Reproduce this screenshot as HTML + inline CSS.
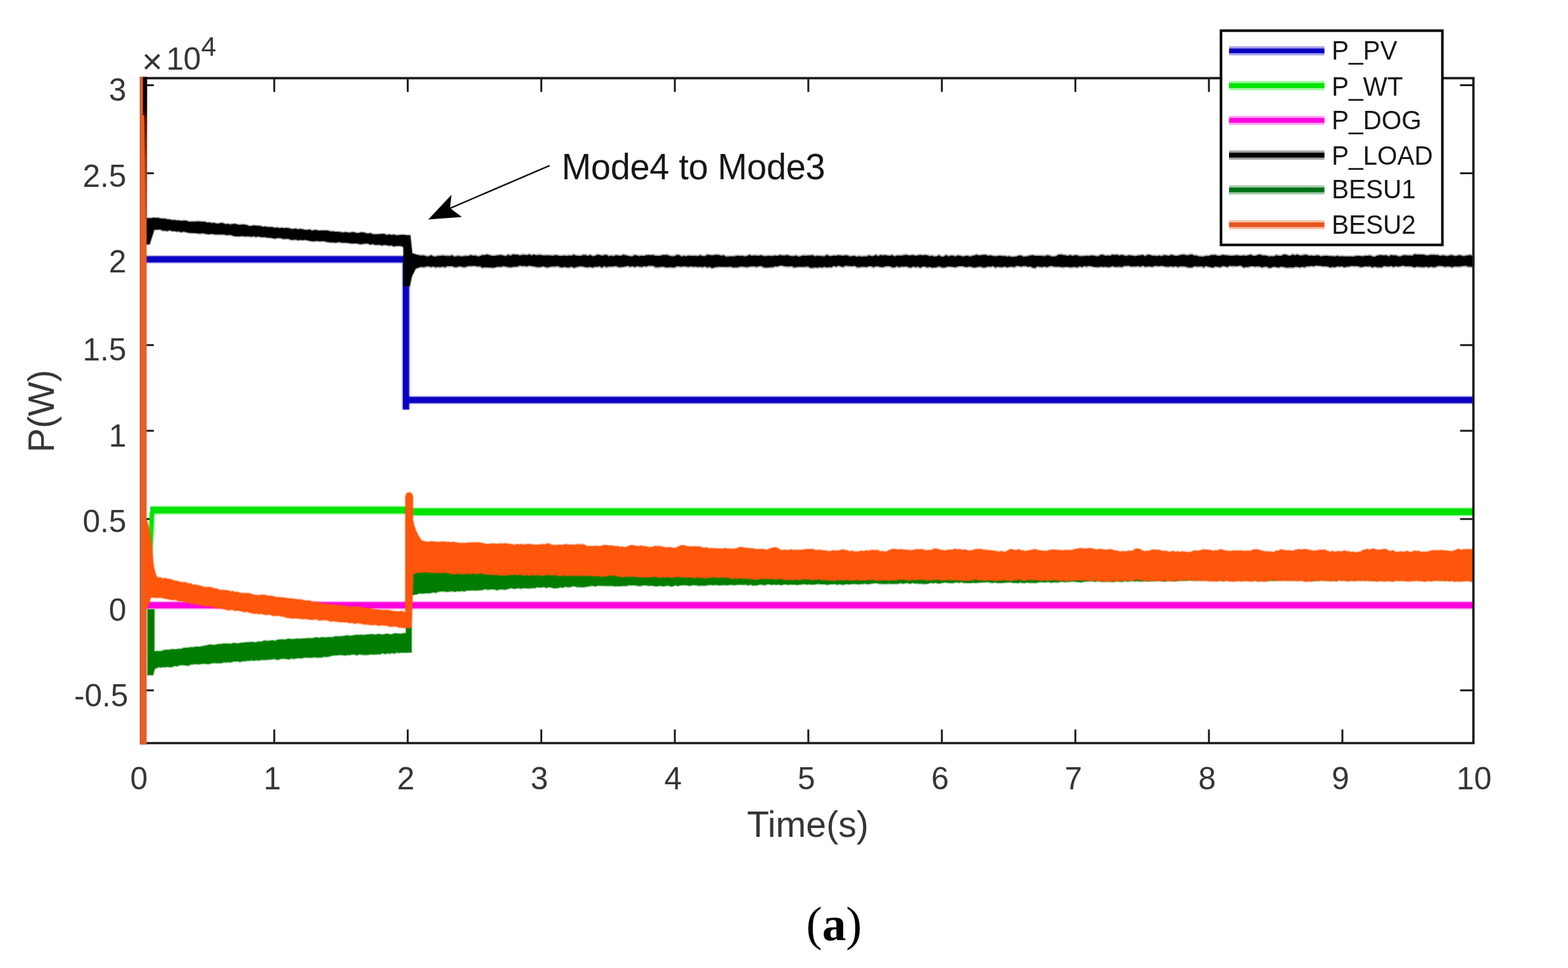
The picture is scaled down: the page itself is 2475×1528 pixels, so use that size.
<!DOCTYPE html>
<html lang="en">
<head>
<meta charset="utf-8">
<title>Figure (a): P(W) vs Time(s)</title>
<style>
html,body{margin:0;padding:0;background:#fff}
body{width:2475px;height:1528px;overflow:hidden}
svg{display:block}
text{font-family:"Liberation Sans",sans-serif;fill:#363636}
.tk{font-size:49.7px}
.mul{font-size:56px}
.sup{font-size:43px}
.lb{font-size:57.3px}
.lg{font-size:40.5px;fill:#161616}
.an{font-size:56px;fill:#161616}
.cap{font-family:"Liberation Serif",serif;font-weight:bold;font-size:75.5px;fill:#000}
.par{font-weight:normal}
</style>
</head>
<body>
<svg width="2475" height="1528" viewBox="0 0 2475 1528">
<defs><linearGradient id="spk" gradientUnits="userSpaceOnUse" x1="0" y1="122" x2="0" y2="345"><stop offset="0" stop-color="#000"/><stop offset=".22" stop-color="#120300"/><stop offset=".3" stop-color="#5a1400"/><stop offset=".6" stop-color="#96300a" stop-opacity=".9"/><stop offset="1" stop-color="#a43a10" stop-opacity=".55"/></linearGradient></defs>
<rect width="2475" height="1528" fill="#fff"/>
<g fill="none" stroke="#1a1a1a" stroke-width="3.7" stroke-linecap="butt">
<path d="M2325.7 123.4H222.8V1173H2325.7" stroke-linecap="square"/>
<path d="M432.9 1173v-21.5M432.9 123.4v21.5M643.6 1173v-21.5M643.6 123.4v21.5M854.4 1173v-21.5M854.4 123.4v21.5M1065.2 1173v-21.5M1065.2 123.4v21.5M1275.9 1173v-21.5M1275.9 123.4v21.5M1486.7 1173v-21.5M1486.7 123.4v21.5M1697.4 1173v-21.5M1697.4 123.4v21.5M1908.2 1173v-21.5M1908.2 123.4v21.5M2118.9 1173v-21.5M2118.9 123.4v21.5M222.8 134.4h20M2325.7 134.4h-21M222.8 273.6h20M2325.7 273.6h-21M222.8 409.1h20M2325.7 409.1h-21M222.8 544.7h20M2325.7 544.7h-21M222.8 680h20M2325.7 680h-21M222.8 819.3h20M2325.7 819.3h-21M222.8 954.6h20M2325.7 954.6h-21M222.8 1089.8h20M2325.7 1089.8h-21" stroke-width="3"/>
</g>
<g id="curves">
<path d="M227 409.4H640.8V646.5" stroke="#0c00c2" stroke-width="13.4" stroke-opacity="0.3" fill="none"/><path d="M227 409.4H640.8V646.5" stroke="#0c00c2" stroke-width="9.6" fill="none"/>
<path d="M640.8 631.4H2325.1" stroke="#0c00c2" stroke-width="13.4" stroke-opacity="0.3" fill="none"/><path d="M640.8 631.4H2325.1" stroke="#0c00c2" stroke-width="9.6" fill="none"/>
<path d="M231 954L236.6 880L240.2 808" stroke="#00e400" stroke-width="10.4" stroke-opacity="0.35" fill="none"/><path d="M231 954L236.6 880L240.2 808" stroke="#00e400" stroke-width="6.4" fill="none"/>
<path d="M237.2 805.2H645L651 807.9H2325.1" stroke="#00e400" stroke-width="14.4" stroke-opacity="0.3" fill="none"/><path d="M237.2 805.2H645L651 807.9H2325.1" stroke="#00e400" stroke-width="10.6" fill="none"/>
<path d="M230 955.4H2325.1" stroke="#ff00e0" stroke-width="13.4" stroke-opacity="0.3" fill="none"/><path d="M230 955.4H2325.1" stroke="#ff00e0" stroke-width="9.6" fill="none"/>
<path d="M231 344.5H250V362H243.5L236 385.5H231Z" fill="#000000" stroke="#000000" stroke-width="2.5" stroke-opacity="0.4" stroke-linejoin="round"/>
<path d="M242 343.9L245.7 345.1L249.4 344.5L253.1 345.1L256.7 345.5L260.4 345.4L264.1 346.5L267.8 346.7L271.5 347.8L275.2 347.6L278.9 348.2L282.5 348.3L286.2 348.9L289.9 348.7L293.6 348.6L297.3 350.1L301 350.2L304.6 350.1L308.3 350.2L312 349.7L315.7 349.9L319.4 350.3L323.1 350.2L326.8 351.7L330.4 351.3L334.1 352.4L337.8 351.9L341.5 353.2L345.2 353.3L348.9 352.1L352.6 352.7L356.2 354.2L359.9 353.6L363.6 354.7L367.3 353.9L371 353.5L374.7 354.7L378.4 355.3L382 354.7L385.7 354.8L389.4 355.6L393.1 357L396.8 357L400.5 356.1L404.1 356.6L407.8 356.7L411.5 356.9L415.2 358.5L418.9 357.7L422.6 358.7L426.3 358.8L429.9 358.7L433.6 360L437.3 359.2L441 360.4L444.7 359.7L448.4 360.4L452.1 360.1L455.7 360.3L459.4 361.7L463.1 361.7L466.8 361L470.5 362.4L474.2 361.5L477.9 362.2L481.5 363.3L485.2 363.2L488.9 362.5L492.6 364.4L496.3 363.2L500 363.5L503.6 364.6L507.3 364L511 364.2L514.7 364.1L518.4 364.5L522.1 365.7L525.8 365.4L529.4 366.3L533.1 366.1L536.8 366.4L540.5 367.5L544.2 366.8L547.9 367.1L551.6 367.8L555.2 366.8L558.9 366.8L562.6 368.2L566.3 368L570 367.1L573.7 367.1L577.4 368.4L581 369.1L584.7 368.2L588.4 370L592.1 370.2L595.8 370L599.5 369.8L603.1 369.4L606.8 369.5L610.5 371.4L614.2 370.3L617.9 371.3L621.6 370.6L625.3 371.8L628.9 371.5L632.6 371.1L636.3 371L640 372.2L640 389.2L636.3 389.3L632.6 388L628.9 387.9L625.3 387.9L621.6 388.7L617.9 387L614.2 387.6L610.5 386.7L606.8 386.1L603.1 387.2L599.5 386L595.8 386.2L592.1 386.2L588.4 384.8L584.7 386L581 384.2L577.4 384L573.7 384.5L570 385.2L566.3 384.8L562.6 383.8L558.9 384L555.2 384.1L551.6 383.5L547.9 382.9L544.2 382.8L540.5 382.9L536.8 382.1L533.1 382L529.4 383L525.8 382.3L522.1 382.3L518.4 382.1L514.7 381.2L511 380.3L507.3 380.4L503.6 380.6L500 380L496.3 380.6L492.6 380.4L488.9 379.9L485.2 379L481.5 378.3L477.9 379L474.2 378.2L470.5 379.1L466.8 378.1L463.1 378.2L459.4 378.4L455.7 376.8L452.1 376.5L448.4 377.1L444.7 376.1L441 375.3L437.3 375.5L433.6 376.4L429.9 375.5L426.3 374.9L422.6 375L418.9 373.9L415.2 374.1L411.5 374.1L407.8 372.8L404.1 373.9L400.5 372.5L396.8 373.6L393.1 372.7L389.4 372.8L385.7 373L382 372.3L378.4 372.7L374.7 372.8L371 372.7L367.3 371.7L363.6 370.3L359.9 370.8L356.2 370.4L352.6 369.7L348.9 369.9L345.2 369.6L341.5 370L337.8 369.6L334.1 368.8L330.4 369.4L326.8 369.2L323.1 368.6L319.4 367.8L315.7 368.6L312 368.1L308.3 367.7L304.6 367.5L301 367.5L297.3 366.9L293.6 366.2L289.9 365L286.2 366.4L282.5 364.9L278.9 365.3L275.2 364.5L271.5 364.5L267.8 363L264.1 364.4L260.4 363.7L256.7 363.8L253.1 361.9L249.4 361.6L245.7 361.5L242 362Z" fill="#000000" stroke="#000000" stroke-width="3.2" stroke-opacity="0.4" stroke-linejoin="round"/>
<path d="M637 371.6H647.5L650.5 400L662 403.5V421.5L656 424L650 436L646.5 451.5H637Z" fill="#000000" stroke="#000000" stroke-width="2.5" stroke-opacity="0.4" stroke-linejoin="round"/>
<path d="M658 404.7L661.7 404L665.4 403.4L669.1 403.5L672.8 404.8L676.5 404.9L680.2 403.1L683.9 404.8L687.6 405.2L691.3 404.1L695 404.3L698.7 403.4L702.4 404.2L706.1 404.2L709.8 404.5L713.4 403.1L717.1 405.6L720.8 404.4L724.5 404.2L728.2 405.2L731.9 404.5L735.6 404.2L739.3 404.6L743 402.8L746.7 404L750.4 403.6L754.1 404.9L757.8 404.6L761.5 402.7L765.2 403.1L768.9 402.1L772.6 402.9L776.3 404L780 404.3L783.7 403.4L787.4 403L791.1 402.8L794.8 403.8L798.5 404.5L802.2 402.3L805.9 403.9L809.6 401.8L813.3 402.2L816.9 402.3L820.6 403.4L824.3 402.4L828 402.4L831.7 403.1L835.4 401.7L839.1 403.4L842.8 402L846.5 403.2L850.2 402.7L853.9 402.7L857.6 403.6L861.3 403.4L865 403.3L868.7 403.5L872.4 403.9L876.1 403.1L879.8 403.2L883.5 404.3L887.2 404.1L890.9 403.6L894.6 404.2L898.3 403.4L902 403.9L905.7 402.3L909.4 403.7L913.1 403.9L916.8 404.2L920.4 402.7L924.1 402.7L927.8 404.3L931.5 402.5L935.2 404.6L938.9 404.3L942.6 402.4L946.3 402.6L950 404L953.7 402.9L957.4 402.6L961.1 404.7L964.8 403.7L968.5 404.7L972.2 403L975.9 403.6L979.6 404.3L983.3 402.5L987 402.9L990.7 404.1L994.4 404.7L998.1 404.9L1001.8 402.7L1005.5 403.8L1009.2 404.5L1012.9 403.8L1016.6 404.3L1020.3 403.1L1023.9 402.8L1027.6 403L1031.3 402.8L1035 404.2L1038.7 404.1L1042.4 404.1L1046.1 402.8L1049.8 402.8L1053.5 402.7L1057.2 404.3L1060.9 404.7L1064.6 404.7L1068.3 402.7L1072 402.8L1075.7 405.2L1079.4 404L1083.1 404.8L1086.8 403.7L1090.5 404.1L1094.2 404.3L1097.9 404.1L1101.6 404.6L1105.3 403L1109 404.5L1112.7 404.5L1116.4 402.4L1120.1 402.8L1123.8 403.5L1127.4 402.7L1131.1 402.5L1134.8 402.7L1138.5 404L1142.2 403L1145.9 405.4L1149.6 405.1L1153.3 404.8L1157 405.1L1160.7 404.4L1164.4 403.8L1168.1 404.3L1171.8 403.9L1175.5 405L1179.2 404.3L1182.9 402.6L1186.6 404.1L1190.3 403.6L1194 403.7L1197.7 403.9L1201.4 403L1205.1 404.4L1208.8 404.5L1212.5 404L1216.2 404.2L1219.9 404.3L1223.6 403.4L1227.3 404.3L1231 402.7L1234.6 403.4L1238.3 403.8L1242 402.7L1245.7 403.7L1249.4 404.6L1253.1 404.6L1256.8 403.6L1260.5 405.4L1264.2 404.5L1267.9 403.4L1271.6 404L1275.3 403.6L1279 403.5L1282.7 403.1L1286.4 404.8L1290.1 403.9L1293.8 404.2L1297.5 404.4L1301.2 405L1304.9 402.5L1308.6 404.2L1312.3 404.6L1316 403.5L1319.7 404L1323.4 403.1L1327.1 403.5L1330.8 403.9L1334.5 403.2L1338.1 403.5L1341.8 405.2L1345.5 404.3L1349.2 404.2L1352.9 405.4L1356.6 404.4L1360.3 405.6L1364 404.7L1367.7 405.2L1371.4 403.2L1375.1 404.4L1378.8 404.6L1382.5 402.6L1386.2 404.7L1389.9 402.7L1393.6 403.5L1397.3 402.8L1401 403.7L1404.7 404.1L1408.4 402.7L1412.1 405L1415.8 403.6L1419.5 403.7L1423.2 403.7L1426.9 402.9L1430.6 402.6L1434.3 403.5L1438 403.3L1441.6 402.7L1445.3 404.1L1449 403.2L1452.7 402.7L1456.4 403.3L1460.1 402.8L1463.8 403.2L1467.5 404.7L1471.2 403.8L1474.9 405.2L1478.6 404.8L1482.3 403L1486 405.4L1489.7 405.2L1493.4 402.8L1497.1 404.9L1500.8 403.7L1504.5 403.8L1508.2 405.1L1511.9 403.3L1515.6 404L1519.3 405.1L1523 404.6L1526.7 403.8L1530.4 405L1534.1 404.4L1537.8 403.6L1541.5 402.2L1545.1 403.4L1548.8 403.1L1552.5 402.6L1556.2 402.5L1559.9 404.1L1563.6 403.3L1567.3 404.2L1571 404.8L1574.7 404.2L1578.4 403.8L1582.1 404.6L1585.8 404.2L1589.5 405.2L1593.2 404.5L1596.9 405.8L1600.6 405.6L1604.3 405.1L1608 403.8L1611.7 403.5L1615.4 405.4L1619.1 405L1622.8 404.4L1626.5 403.5L1630.2 403.1L1633.9 404.1L1637.6 403.9L1641.3 404L1645 404.2L1648.6 404.7L1652.3 403.3L1656 403.5L1659.7 405.3L1663.4 405L1667.1 404.7L1670.8 402.3L1674.5 402.2L1678.2 402.7L1681.9 403.2L1685.6 403.9L1689.3 402.8L1693 404.2L1696.7 403.1L1700.4 403.3L1704.1 404.8L1707.8 404.4L1711.5 404.6L1715.2 403.9L1718.9 404.2L1722.6 403.5L1726.3 403.8L1730 404.6L1733.7 404.7L1737.4 402.5L1741.1 402.4L1744.8 404.1L1748.5 403.6L1752.1 403.9L1755.8 402.3L1759.5 402.8L1763.2 402.3L1766.9 403.7L1770.6 402.6L1774.3 403.4L1778 404.4L1781.7 402.9L1785.4 403.6L1789.1 404.1L1792.8 404.6L1796.5 403.4L1800.2 403.3L1803.9 402.6L1807.6 404.7L1811.3 402.6L1815 402.6L1818.7 404L1822.4 403.8L1826.1 404.5L1829.8 403.5L1833.5 404.8L1837.2 402.9L1840.9 403.2L1844.6 404.3L1848.3 402.6L1852 403.1L1855.7 404.2L1859.3 404L1863 402.8L1866.7 402.2L1870.4 402.6L1874.1 403.4L1877.8 402.4L1881.5 401.9L1885.2 403.7L1888.9 403.6L1892.6 404.9L1896.3 405.2L1900 405.2L1903.7 403.9L1907.4 404.6L1911.1 403L1914.8 402.7L1918.5 402.7L1922.2 403.9L1925.9 403.9L1929.6 402.5L1933.3 403.1L1937 403.4L1940.7 403.7L1944.4 403.9L1948.1 403.8L1951.8 403.1L1955.5 403.7L1959.2 404.1L1962.8 403.2L1966.5 403.9L1970.2 403.2L1973.9 402.2L1977.6 403.8L1981.3 404.2L1985 402.7L1988.7 402.1L1992.4 403.4L1996.1 403.6L1999.8 403.9L2003.5 405.1L2007.2 404.5L2010.9 404.9L2014.6 402.9L2018.3 403.9L2022 404.3L2025.7 402.2L2029.4 402L2033.1 403.6L2036.8 404L2040.5 401.9L2044.2 403.3L2047.9 402L2051.6 403.6L2055.3 403.4L2059 402.4L2062.7 402.4L2066.3 404L2070 403.5L2073.7 404.3L2077.4 403.4L2081.1 403.2L2084.8 404.9L2088.5 404.3L2092.2 403.9L2095.9 404.1L2099.6 404.6L2103.3 404.6L2107 405.1L2110.7 403.9L2114.4 405L2118.1 404.6L2121.8 405.1L2125.5 405L2129.2 405L2132.9 405.1L2136.6 405.2L2140.3 404.3L2144 404L2147.7 404.5L2151.4 404.8L2155.1 404L2158.8 404.1L2162.5 403.4L2166.2 405L2169.8 405.6L2173.5 403.9L2177.2 403.1L2180.9 403L2184.6 403.5L2188.3 403L2192 404.9L2195.7 402.7L2199.4 403.5L2203.1 403.2L2206.8 404.7L2210.5 405.1L2214.2 403.5L2217.9 402.9L2221.6 403.5L2225.3 403.5L2229 404L2232.7 401.6L2236.4 401.9L2240.1 402.1L2243.8 402.2L2247.5 402.3L2251.2 403.6L2254.9 403.3L2258.6 402.4L2262.3 402.4L2266 402.8L2269.7 402.7L2273.3 404.3L2277 403.2L2280.7 403.7L2284.4 404.4L2288.1 403.4L2291.8 402.7L2295.5 404.3L2299.2 404.3L2302.9 402.9L2306.6 403.6L2310.3 404.8L2314 403.8L2317.7 403.2L2321.4 402.8L2325.1 405.2L2325.1 421.2L2321.4 420.6L2317.7 420.8L2314 419.3L2310.3 419.5L2306.6 420.1L2302.9 420.6L2299.2 420.5L2295.5 420.2L2291.8 421.8L2288.1 420.3L2284.4 420.2L2280.7 420.9L2277 419.7L2273.3 419.6L2269.7 419.6L2266 421.2L2262.3 421.6L2258.6 420.6L2254.9 421.9L2251.2 420.4L2247.5 421.5L2243.8 421.3L2240.1 421.1L2236.4 420.4L2232.7 421.9L2229 420.6L2225.3 420L2221.6 420.1L2217.9 420.1L2214.2 418.9L2210.5 420L2206.8 420.7L2203.1 419.7L2199.4 421.3L2195.7 419.4L2192 420.4L2188.3 420.3L2184.6 419.5L2180.9 421.8L2177.2 421.4L2173.5 421.6L2169.8 420.5L2166.2 422.1L2162.5 420L2158.8 420.4L2155.1 420L2151.4 421L2147.7 421.5L2144 420L2140.3 419.8L2136.6 419.7L2132.9 419.5L2129.2 420.4L2125.5 420.8L2121.8 421.7L2118.1 420L2114.4 420.7L2110.7 420.1L2107 421.7L2103.3 421.1L2099.6 421.9L2095.9 420.4L2092.2 419.9L2088.5 420.2L2084.8 419.4L2081.1 419.2L2077.4 419L2073.7 420.1L2070 419.4L2066.3 420.1L2062.7 420L2059 421.7L2055.3 420.8L2051.6 422L2047.9 420.9L2044.2 421.1L2040.5 422.3L2036.8 421.6L2033.1 422.3L2029.4 421.9L2025.7 421L2022 420.4L2018.3 422L2014.6 421.4L2010.9 420.4L2007.2 421.9L2003.5 422.7L1999.8 420.8L1996.1 420.6L1992.4 421.9L1988.7 420.6L1985 420.1L1981.3 420.8L1977.6 420L1973.9 419.9L1970.2 421.2L1966.5 421.3L1962.8 421.9L1959.2 419.3L1955.5 419.2L1951.8 420L1948.1 419.6L1944.4 419.8L1940.7 419.2L1937 421.4L1933.3 419.9L1929.6 419.7L1925.9 421.7L1922.2 421L1918.5 420.2L1914.8 422.2L1911.1 421.5L1907.4 420.7L1903.7 419.4L1900 421.8L1896.3 419.9L1892.6 420.4L1888.9 420.6L1885.2 419.9L1881.5 421.9L1877.8 422L1874.1 421.6L1870.4 420.2L1866.7 420.3L1863 420L1859.3 421.6L1855.7 419.7L1852 421L1848.3 420.1L1844.6 420.7L1840.9 420.8L1837.2 420L1833.5 419.3L1829.8 419.9L1826.1 419.4L1822.4 419.6L1818.7 420.9L1815 420.2L1811.3 420.2L1807.6 421.1L1803.9 419L1800.2 421L1796.5 419.7L1792.8 420.3L1789.1 420.3L1785.4 420.4L1781.7 419.2L1778 419.6L1774.3 419.6L1770.6 421.4L1766.9 420.6L1763.2 421.1L1759.5 421L1755.8 419.7L1752.1 421.2L1748.5 421.5L1744.8 420.7L1741.1 421.3L1737.4 420.4L1733.7 421.5L1730 421.2L1726.3 421L1722.6 420L1718.9 419.5L1715.2 420.6L1711.5 419.6L1707.8 421.4L1704.1 419.9L1700.4 422L1696.7 420.9L1693 421.3L1689.3 421.8L1685.6 420.9L1681.9 420.9L1678.2 421.6L1674.5 421.2L1670.8 420.4L1667.1 421L1663.4 420.6L1659.7 419.5L1656 420.3L1652.3 421.5L1648.6 420.3L1645 421.5L1641.3 421L1637.6 420.1L1633.9 422.7L1630.2 422.3L1626.5 420.2L1622.8 420.9L1619.1 419.8L1615.4 419.5L1611.7 420.7L1608 419.6L1604.3 419.4L1600.6 421.6L1596.9 420.5L1593.2 420.9L1589.5 421.8L1585.8 420.3L1582.1 421.4L1578.4 421.2L1574.7 420.7L1571 422L1567.3 419.6L1563.6 421.1L1559.9 420.2L1556.2 421.4L1552.5 422.3L1548.8 420.8L1545.1 420.6L1541.5 421.5L1537.8 422.1L1534.1 421.3L1530.4 420.3L1526.7 421.3L1523 420.9L1519.3 419.8L1515.6 419.9L1511.9 420.2L1508.2 421.7L1504.5 420.9L1500.8 420.7L1497.1 420.3L1493.4 421.2L1489.7 422.3L1486 421.6L1482.3 420L1478.6 421.5L1474.9 422L1471.2 422.2L1467.5 420.8L1463.8 422L1460.1 420.5L1456.4 420.4L1452.7 422.5L1449 420.6L1445.3 421.5L1441.6 420.2L1438 422.1L1434.3 421.7L1430.6 419.9L1426.9 420.7L1423.2 420.4L1419.5 421.6L1415.8 420L1412.1 421.8L1408.4 421.8L1404.7 420.1L1401 419.7L1397.3 420.2L1393.6 421.4L1389.9 421.2L1386.2 420.2L1382.5 419.9L1378.8 421.7L1375.1 419.7L1371.4 419.9L1367.7 421.4L1364 420.8L1360.3 420.7L1356.6 421.6L1352.9 421.6L1349.2 419.3L1345.5 419.9L1341.8 419.8L1338.1 419.6L1334.5 418.9L1330.8 421.3L1327.1 420.2L1323.4 419.1L1319.7 420.9L1316 419.3L1312.3 421.8L1308.6 421.2L1304.9 421.9L1301.2 420.7L1297.5 422.2L1293.8 421.2L1290.1 422.4L1286.4 421.8L1282.7 422.6L1279 422.5L1275.3 420.3L1271.6 420.7L1267.9 421.1L1264.2 420.9L1260.5 420.7L1256.8 421.4L1253.1 421.8L1249.4 419.8L1245.7 420.4L1242 420.3L1238.3 419.9L1234.6 418.9L1231 418.9L1227.3 420.5L1223.6 420.1L1219.9 421.6L1216.2 421.4L1212.5 421.9L1208.8 422.2L1205.1 421.6L1201.4 419.6L1197.7 420L1194 421.3L1190.3 420L1186.6 420.3L1182.9 420.4L1179.2 421.6L1175.5 420.9L1171.8 420.6L1168.1 420.6L1164.4 421.7L1160.7 421.6L1157 421.9L1153.3 420.5L1149.6 421.1L1145.9 421.1L1142.2 421L1138.5 421L1134.8 420.8L1131.1 421.3L1127.4 421.9L1123.8 422.9L1120.1 420.7L1116.4 422L1112.7 420.2L1109 421.6L1105.3 420.7L1101.6 421.2L1097.9 420.4L1094.2 421L1090.5 420.1L1086.8 421.1L1083.1 420.5L1079.4 419.9L1075.7 420.8L1072 420.2L1068.3 419.9L1064.6 422.1L1060.9 421.7L1057.2 421.2L1053.5 422L1049.8 421.6L1046.1 420.4L1042.4 421.1L1038.7 421.6L1035 421.6L1031.3 419.5L1027.6 419.2L1023.9 419.3L1020.3 420.6L1016.6 419.7L1012.9 421.3L1009.2 420.6L1005.5 419.7L1001.8 421.4L998.1 419.7L994.4 421L990.7 419.2L987 420.4L983.3 421L979.6 421.5L975.9 421.2L972.2 419.6L968.5 420.3L964.8 420.4L961.1 420.5L957.4 421.6L953.7 419.8L950 422.2L946.3 420L942.6 420.9L938.9 420.7L935.2 422.2L931.5 420.7L927.8 421.7L924.1 421.4L920.4 420.5L916.8 420.1L913.1 420.5L909.4 421.6L905.7 422.5L902 420.5L898.3 422.1L894.6 421.7L890.9 421L887.2 422L883.5 421.2L879.8 419.6L876.1 420.6L872.4 420.2L868.7 420.8L865 421.8L861.3 421.4L857.6 419.9L853.9 421L850.2 421.4L846.5 421.1L842.8 420.2L839.1 419.7L835.4 418.9L831.7 420.3L828 419.6L824.3 419.7L820.6 419L816.9 420.6L813.3 420.7L809.6 421.1L805.9 421.8L802.2 421.2L798.5 420.6L794.8 419.8L791.1 420.9L787.4 420.7L783.7 420.9L780 422.2L776.3 422.2L772.6 422L768.9 421.7L765.2 421.4L761.5 422.4L757.8 419.9L754.1 420.5L750.4 419.5L746.7 419.5L743 419.7L739.3 419.4L735.6 420.9L731.9 421.6L728.2 420.5L724.5 420L720.8 421.4L717.1 421.3L713.4 419.8L709.8 419.9L706.1 419.8L702.4 421.7L698.7 420.4L695 421.4L691.3 420.9L687.6 421.8L683.9 420.2L680.2 421.2L676.5 419.9L672.8 420.2L669.1 421.4L665.4 420.9L661.7 420.9L658 420.8Z" fill="#000000" stroke="#000000" stroke-width="4.2" stroke-opacity="0.33" stroke-linejoin="round"/>
<path d="M233 962H243.5V1028.5L248 1028.4V1053.6L244 1056L241.5 1065.5H233Z" fill="#007d00" stroke="#007d00" stroke-width="2.5" stroke-opacity="0.4" stroke-linejoin="round"/>
<path d="M246 1028.7L249.7 1027.9L253.4 1028.3L257.1 1027L260.8 1026.1L264.5 1026.1L268.1 1025.8L271.8 1024.9L275.5 1025.3L279.2 1025.1L282.9 1024.5L286.6 1024.4L290.3 1022.8L294 1023.1L297.7 1022.6L301.4 1021.7L305.1 1021.9L308.8 1020.9L312.4 1021.3L316.1 1021L319.8 1020.3L323.5 1019.5L327.2 1018.8L330.9 1017.8L334.6 1018L338.3 1018.5L342 1017.6L345.7 1016.7L349.4 1017.1L353.1 1016L356.7 1016.3L360.4 1016.3L364.1 1016.7L367.8 1015.3L371.5 1015.5L375.2 1015.9L378.9 1015.3L382.6 1014.8L386.3 1014.6L390 1014L393.7 1013.9L397.4 1013.4L401 1014.2L404.7 1014L408.4 1012.8L412.1 1013.5L415.8 1011.7L419.5 1011.6L423.2 1012L426.9 1011.4L430.6 1011.1L434.3 1011.9L438 1010L441.7 1009.7L445.3 1009.5L449 1010.1L452.7 1009.1L456.4 1008.5L460.1 1009.3L463.8 1008.9L467.5 1008.4L471.2 1008.6L474.9 1008.6L478.6 1008.1L482.3 1007.9L486 1007.5L489.6 1007.8L493.3 1007.8L497 1006.5L500.7 1006.4L504.4 1007.2L508.1 1006L511.8 1006.5L515.5 1006.2L519.2 1006L522.9 1006.3L526.6 1005.8L530.3 1004.4L533.9 1005L537.6 1004.5L541.3 1004.4L545 1003.7L548.7 1003.3L552.4 1003.9L556.1 1003.4L559.8 1002.7L563.5 1002.6L567.2 1002.6L570.9 1002.3L574.6 1002.8L578.2 1001.9L581.9 1001.7L585.6 1001.5L589.3 1001.4L593 1002.3L596.7 1001.1L600.4 1001.5L604.1 1002L607.8 1001.3L611.5 1000.6L615.2 1001.7L618.9 1001.6L622.5 1000L626.2 1000.2L629.9 1000.4L633.6 1000.8L637.3 999.8L641 1000.2L641 1029.7L637.3 1029.9L633.6 1029.8L629.9 1030.6L626.2 1029.8L622.5 1031.5L618.9 1030.5L615.2 1031.5L611.5 1031.1L607.8 1032.2L604.1 1030.8L600.4 1032.6L596.7 1032.4L593 1032.7L589.3 1032.9L585.6 1032.4L581.9 1033.2L578.2 1033.5L574.6 1033.6L570.9 1033.2L567.2 1032.4L563.5 1034.2L559.8 1032.9L556.1 1032.7L552.4 1033.7L548.7 1033.5L545 1034.4L541.3 1033.9L537.6 1033.6L533.9 1033.9L530.3 1034.2L526.6 1034.3L522.9 1034.9L519.2 1036.3L515.5 1036.8L511.8 1036.3L508.1 1037.6L504.4 1037.6L500.7 1037.9L497 1037L493.3 1037.8L489.6 1038.1L486 1038.1L482.3 1037.4L478.6 1038.2L474.9 1039.1L471.2 1038.6L467.5 1039L463.8 1039.9L460.1 1038.9L456.4 1040.6L452.7 1039.9L449 1039.6L445.3 1039.6L441.7 1040.2L438 1041.4L434.3 1040L430.6 1040.2L426.9 1040.7L423.2 1041.1L419.5 1041.5L415.8 1041.3L412.1 1041.6L408.4 1042.4L404.7 1041.8L401 1042.8L397.4 1042L393.7 1042.8L390 1042.7L386.3 1043.6L382.6 1043.4L378.9 1044.8L375.2 1043.5L371.5 1043.9L367.8 1044L364.1 1045.4L360.4 1045.1L356.7 1045.6L353.1 1045.3L349.4 1046.5L345.7 1046.4L342 1046.5L338.3 1046.3L334.6 1046.4L330.9 1047.7L327.2 1047.9L323.5 1047.2L319.8 1047.6L316.1 1048L312.4 1048.4L308.8 1047.7L305.1 1048.6L301.4 1048.5L297.7 1050.4L294 1050.2L290.3 1049.7L286.6 1049.6L282.9 1050.1L279.2 1051.5L275.5 1050.7L271.8 1052.8L268.1 1053L264.5 1052.3L260.8 1052.9L257.1 1052.8L253.4 1053.5L249.7 1052.7L246 1054.3Z" fill="#007d00" stroke="#007d00" stroke-width="3" stroke-opacity="0.38" stroke-linejoin="round"/>
<path d="M641 1029.8V990H649.5V1029.8Z" fill="#007d00" stroke="#007d00" stroke-width="2.5" stroke-opacity="0.4" stroke-linejoin="round"/>
<path d="M646 940V904H658V938Z" fill="#007d00" stroke="#007d00" stroke-width="2" stroke-opacity="0.4" stroke-linejoin="round"/>
<path d="M655 898L658.7 898L662.4 898L666.1 897.9L669.8 897.9L673.5 897.9L677.2 897.9L680.9 897.9L684.6 897.9L688.3 897.8L692 897.8L695.7 897.8L699.4 897.8L703.1 897.8L706.8 897.8L710.5 897.7L714.2 897.7L718 897.7L721.7 897.7L725.4 897.7L729.1 897.6L732.8 897.6L736.5 897.6L740.2 897.6L743.9 897.6L747.6 897.6L751.3 897.5L755 897.5L758.7 897.5L762.4 897.5L766.1 897.5L769.8 897.5L773.5 897.4L777.2 897.4L780.9 897.4L784.6 897.4L788.3 897.4L792 897.3L795.7 897.3L799.4 897.3L803.1 897.3L806.8 897.3L810.5 897.3L814.2 897.2L817.9 897.2L821.6 897.2L825.3 897.2L829 897.2L832.7 897.1L836.5 897.1L840.2 897.1L843.9 897.1L847.6 897.1L851.3 897.1L855 897L858.7 897L862.4 897L866.1 897L869.8 897L873.5 897L877.2 896.9L880.9 896.9L884.6 896.9L888.3 896.9L892 896.9L895.7 896.8L899.4 896.8L903.1 896.8L906.8 896.8L910.5 896.8L914.2 896.8L917.9 896.7L921.6 896.7L925.3 896.7L929 896.7L932.7 896.7L936.4 896.7L940.1 896.6L943.8 896.6L947.5 896.6L951.2 896.6L955 896.6L958.7 896.5L962.4 896.5L966.1 896.5L969.8 896.5L973.5 896.5L977.2 896.5L980.9 896.4L984.6 896.4L988.3 896.4L992 896.4L995.7 896.4L999.4 896.4L1003.1 896.3L1006.8 896.3L1010.5 896.3L1014.2 896.3L1017.9 896.3L1021.6 896.2L1025.3 896.2L1029 896.2L1032.7 896.2L1036.4 896.2L1040.1 896.2L1043.8 896.1L1047.5 896.1L1051.2 896.1L1054.9 896.1L1058.6 896.1L1062.3 896L1066 896L1069.7 896L1073.5 896L1077.2 896L1080.9 896L1084.6 895.9L1088.3 895.9L1092 895.9L1095.7 895.9L1099.4 895.9L1103.1 895.9L1106.8 895.8L1110.5 895.8L1114.2 895.8L1117.9 895.8L1121.6 895.8L1125.3 895.7L1129 895.7L1132.7 895.7L1136.4 895.7L1140.1 895.7L1143.8 895.7L1147.5 895.6L1151.2 895.6L1154.9 895.6L1158.6 895.6L1162.3 895.6L1166 895.6L1169.7 895.5L1173.4 895.5L1177.1 895.5L1180.8 895.5L1184.5 895.5L1188.2 895.4L1192 895.4L1195.7 895.4L1199.4 895.4L1203.1 895.4L1206.8 895.4L1210.5 895.3L1214.2 895.3L1217.9 895.3L1221.6 895.3L1225.3 895.3L1229 895.3L1232.7 895.2L1236.4 895.2L1240.1 895.2L1243.8 895.2L1247.5 895.2L1251.2 895.1L1254.9 895.1L1258.6 895.1L1262.3 895.1L1266 895.1L1269.7 895.1L1273.4 895L1277.1 895L1280.8 895L1284.5 895L1288.2 895L1291.9 895L1295.6 894.9L1299.3 894.9L1303 894.9L1306.7 894.9L1310.4 894.9L1314.2 894.8L1317.9 894.8L1321.6 894.8L1325.3 894.8L1329 894.8L1332.7 894.8L1336.4 894.7L1340.1 894.7L1343.8 894.7L1347.5 894.7L1351.2 894.7L1354.9 894.6L1358.6 894.6L1362.3 894.6L1366 894.6L1369.7 894.6L1373.4 894.6L1377.1 894.5L1380.8 894.5L1384.5 894.5L1388.2 894.5L1391.9 894.5L1395.6 894.5L1399.3 894.4L1403 894.4L1406.7 894.4L1410.4 894.4L1414.1 894.4L1417.8 894.3L1421.5 894.3L1425.2 894.3L1428.9 894.3L1432.7 894.3L1436.4 894.3L1440.1 894.2L1443.8 894.2L1447.5 894.2L1451.2 894.2L1454.9 894.2L1458.6 894.2L1462.3 894.1L1466 894.1L1469.7 894.1L1473.4 894.1L1477.1 894.1L1480.8 894L1484.5 894L1488.2 894L1491.9 894L1495.6 894L1499.3 894L1503 893.9L1506.7 893.9L1510.4 893.9L1514.1 893.9L1517.8 893.9L1521.5 893.9L1525.2 893.8L1528.9 893.8L1532.6 893.8L1536.3 893.8L1540 893.8L1543.7 893.7L1547.4 893.7L1551.2 893.7L1554.9 893.7L1558.6 893.7L1562.3 893.7L1566 893.6L1569.7 893.6L1573.4 893.6L1577.1 893.6L1580.8 893.6L1584.5 893.6L1588.2 893.5L1591.9 893.5L1595.6 893.5L1599.3 893.5L1603 893.5L1606.7 893.4L1610.4 893.4L1614.1 893.4L1617.8 893.4L1621.5 893.4L1625.2 893.4L1628.9 893.3L1632.6 893.3L1636.3 893.3L1640 893.3L1643.7 893.3L1647.4 893.2L1651.1 893.2L1654.8 893.2L1658.5 893.2L1662.2 893.2L1665.9 893.2L1669.7 893.1L1673.4 893.1L1677.1 893.1L1680.8 893.1L1684.5 893.1L1688.2 893.1L1691.9 893L1695.6 893L1699.3 893L1703 893L1706.7 893L1710.4 892.9L1714.1 892.9L1717.8 892.9L1721.5 892.9L1725.2 892.9L1728.9 892.9L1732.6 892.8L1736.3 892.8L1740 892.8L1743.7 892.8L1747.4 892.8L1751.1 892.8L1754.8 892.7L1758.5 892.7L1762.2 892.7L1765.9 892.7L1769.6 892.7L1773.3 892.6L1777 892.6L1780.7 892.6L1784.4 892.6L1788.1 892.6L1791.9 892.6L1795.6 892.5L1799.3 892.5L1803 892.5L1806.7 892.5L1810.4 892.5L1814.1 892.5L1817.8 892.4L1821.5 892.4L1825.2 892.4L1828.9 892.4L1832.6 892.4L1836.3 892.3L1840 892.3L1843.7 892.3L1847.4 892.3L1851.1 892.3L1854.8 892.3L1858.5 892.2L1862.2 892.2L1865.9 892.2L1869.6 892.2L1873.3 892.2L1877 892.1L1880.7 892.1L1884.4 892.1L1888.1 892.1L1891.8 892.1L1895.5 892.1L1899.2 892L1902.9 892L1906.6 892L1910.4 892L1914.1 892L1917.8 892L1921.5 891.9L1925.2 891.9L1928.9 891.9L1932.6 891.9L1936.3 891.9L1940 891.8L1943.7 891.8L1947.4 891.8L1951.1 891.8L1954.8 891.8L1958.5 891.8L1962.2 891.7L1965.9 891.7L1969.6 891.7L1973.3 891.7L1977 891.7L1980.7 891.7L1984.4 891.6L1988.1 891.6L1991.8 891.6L1995.5 891.6L1999.2 891.6L2002.9 891.5L2006.6 891.5L2010.3 891.5L2014 891.5L2017.7 891.5L2021.4 891.5L2025.1 891.4L2028.9 891.4L2032.6 891.4L2036.3 891.4L2040 891.4L2043.7 891.4L2047.4 891.3L2051.1 891.3L2054.8 891.3L2058.5 891.3L2062.2 891.3L2065.9 891.2L2069.6 891.2L2073.3 891.2L2077 891.2L2080.7 891.2L2084.4 891.2L2088.1 891.1L2091.8 891.1L2095.5 891.1L2099.2 891.1L2102.9 891.1L2106.6 891.1L2110.3 891L2114 891L2117.7 891L2121.4 891L2125.1 891L2128.8 890.9L2132.5 890.9L2136.2 890.9L2139.9 890.9L2143.6 890.9L2147.4 890.9L2151.1 890.8L2154.8 890.8L2158.5 890.8L2162.2 890.8L2165.9 890.8L2169.6 890.7L2173.3 890.7L2177 890.7L2180.7 890.7L2184.4 890.7L2188.1 890.7L2191.8 890.6L2195.5 890.6L2199.2 890.6L2202.9 890.6L2206.6 890.6L2210.3 890.6L2214 890.5L2217.7 890.5L2221.4 890.5L2225.1 890.5L2228.8 890.5L2232.5 890.4L2236.2 890.4L2239.9 890.4L2243.6 890.4L2247.3 890.4L2251 890.4L2254.7 890.3L2258.4 890.3L2262.1 890.3L2265.9 890.3L2269.6 890.3L2273.3 890.3L2277 890.2L2280.7 890.2L2284.4 890.2L2288.1 890.2L2291.8 890.2L2295.5 890.1L2299.2 890.1L2302.9 890.1L2306.6 890.1L2310.3 890.1L2314 890.1L2317.7 890L2321.4 890L2325.1 890L2325.1 914.6L2321.4 914.5L2317.7 914.7L2314 915.6L2310.3 915.5L2306.6 915.7L2302.9 915.1L2299.2 914.7L2295.5 916L2291.8 915.3L2288.1 916.4L2284.4 915.7L2280.7 916.5L2277 915.7L2273.3 915.6L2269.6 915.8L2265.9 915L2262.1 915.4L2258.4 916.1L2254.7 915.1L2251 915.8L2247.3 916L2243.6 915.3L2239.9 914.3L2236.2 914.7L2232.5 914.8L2228.8 914.8L2225.1 914.3L2221.4 915.5L2217.7 915.1L2214 914.4L2210.3 915.2L2206.6 914.1L2202.9 915.8L2199.2 915.3L2195.5 915.5L2191.8 916L2188.1 915.2L2184.4 915.8L2180.7 916.1L2177 916.2L2173.3 916.1L2169.6 915.8L2165.9 915.5L2162.2 916.3L2158.5 916.2L2154.8 915.8L2151.1 914.8L2147.4 916.3L2143.6 915L2139.9 916.4L2136.2 915.3L2132.5 915L2128.8 915.7L2125.1 915.1L2121.4 916L2117.7 915.4L2114 914.7L2110.3 916L2106.6 915.4L2102.9 916.6L2099.2 915.8L2095.5 916.3L2091.8 915.3L2088.1 916.1L2084.4 915.8L2080.7 916.3L2077 916.3L2073.3 916.7L2069.6 916.2L2065.9 915.2L2062.2 915.7L2058.5 915.4L2054.8 914.9L2051.1 915.6L2047.4 915.9L2043.7 915.8L2040 914.9L2036.3 915L2032.6 915.8L2028.9 915.2L2025.1 915.3L2021.4 916.2L2017.7 915.6L2014 916L2010.3 916.5L2006.6 916L2002.9 916.2L1999.2 916.1L1995.5 916L1991.8 916.1L1988.1 916.6L1984.4 916.7L1980.7 915.6L1977 916.5L1973.3 915.4L1969.6 915.3L1965.9 915.4L1962.2 916L1958.5 914.9L1954.8 915L1951.1 914.7L1947.4 916.2L1943.7 915L1940 915.6L1936.3 915.6L1932.6 916.6L1928.9 917L1925.2 915.7L1921.5 916.4L1917.8 916.3L1914.1 915.6L1910.4 915.4L1906.6 916.1L1902.9 915.3L1899.2 915.4L1895.5 916.4L1891.8 915.2L1888.1 916.1L1884.4 916.1L1880.7 916L1877 915.6L1873.3 916.3L1869.6 916.2L1865.9 916.2L1862.2 916L1858.5 916.7L1854.8 917.3L1851.1 916.6L1847.4 916.2L1843.7 916.1L1840 917.5L1836.3 917.6L1832.6 916.8L1828.9 916.1L1825.2 916.8L1821.5 916.8L1817.8 917.3L1814.1 917.3L1810.4 917.5L1806.7 916.7L1803 917.5L1799.3 917.6L1795.6 916.8L1791.9 917.4L1788.1 916.7L1784.4 916.6L1780.7 917.9L1777 916.8L1773.3 917.5L1769.6 918.3L1765.9 917.5L1762.2 917L1758.5 918.2L1754.8 918.3L1751.1 917.8L1747.4 917.6L1743.7 918L1740 917.9L1736.3 917.4L1732.6 916.7L1728.9 918.1L1725.2 917.2L1721.5 916.7L1717.8 917.2L1714.1 917.4L1710.4 918.1L1706.7 919L1703 918.5L1699.3 918.3L1695.6 917.7L1691.9 917.8L1688.2 918.3L1684.5 918.1L1680.8 918.8L1677.1 918.1L1673.4 918.2L1669.7 919.2L1665.9 918.7L1662.2 918.9L1658.5 919.5L1654.8 918.1L1651.1 918.9L1647.4 919L1643.7 918.6L1640 918.8L1636.3 919.6L1632.6 920L1628.9 919.4L1625.2 920L1621.5 918.9L1617.8 920.1L1614.1 920.1L1610.4 919.1L1606.7 920.2L1603 919.8L1599.3 919.7L1595.6 918.9L1591.9 919.1L1588.2 919.2L1584.5 919.6L1580.8 919.9L1577.1 920L1573.4 919.8L1569.7 919L1566 920L1562.3 918.9L1558.6 918.6L1554.9 919.1L1551.2 919.1L1547.4 919.2L1543.7 919.5L1540 920.1L1536.3 919.4L1532.6 920L1528.9 919.9L1525.2 919.9L1521.5 920.1L1517.8 918.6L1514.1 919.8L1510.4 918.7L1506.7 919.6L1503 920.3L1499.3 919.9L1495.6 919.8L1491.9 919L1488.2 919.4L1484.5 920.6L1480.8 920.9L1477.1 919.4L1473.4 920.5L1469.7 919.5L1466 920.7L1462.3 921.4L1458.6 921.5L1454.9 921L1451.2 921.3L1447.5 920.5L1443.8 920.7L1440.1 919.8L1436.4 921.3L1432.7 920.1L1428.9 920.3L1425.2 921.2L1421.5 920.1L1417.8 921.3L1414.1 921.3L1410.4 921.2L1406.7 921.4L1403 921.1L1399.3 921.5L1395.6 921.5L1391.9 921.2L1388.2 921.2L1384.5 920.2L1380.8 920.3L1377.1 920.7L1373.4 921.2L1369.7 921.9L1366 921L1362.3 921.4L1358.6 921.5L1354.9 922.3L1351.2 921.6L1347.5 921.4L1343.8 921.6L1340.1 922.4L1336.4 921.4L1332.7 922.5L1329 922.7L1325.3 921.7L1321.6 922.8L1317.9 921.5L1314.2 922.1L1310.4 921.7L1306.7 922.9L1303 922.2L1299.3 921.9L1295.6 922L1291.9 921.3L1288.2 922.1L1284.5 922.5L1280.8 922.5L1277.1 922L1273.4 922.5L1269.7 921.6L1266 922.2L1262.3 922.5L1258.6 923.2L1254.9 922.4L1251.2 922.6L1247.5 922.3L1243.8 922.9L1240.1 922L1236.4 922.4L1232.7 923.6L1229 922.2L1225.3 922.9L1221.6 922.2L1217.9 923L1214.2 921.9L1210.5 922.2L1206.8 923.5L1203.1 922.7L1199.4 922.2L1195.7 923.6L1192 923.7L1188.2 923.9L1184.5 922.6L1180.8 923.7L1177.1 922.6L1173.4 922.7L1169.7 922.8L1166 922.6L1162.3 922.9L1158.6 923.6L1154.9 922.8L1151.2 922.9L1147.5 923.5L1143.8 923.3L1140.1 923.2L1136.4 923.7L1132.7 923.2L1129 922.9L1125.3 923.5L1121.6 923L1117.9 923.3L1114.2 923.9L1110.5 924.3L1106.8 924L1103.1 924.6L1099.4 923.6L1095.7 923.2L1092 923.6L1088.3 924.5L1084.6 923.5L1080.9 923.4L1077.2 923.2L1073.5 923.9L1069.7 924.7L1066 923.5L1062.3 925.3L1058.6 925.4L1054.9 924.1L1051.2 924.6L1047.5 925.2L1043.8 924.7L1040.1 924.4L1036.4 925.2L1032.7 924.9L1029 924L1025.3 924.4L1021.6 923.9L1017.9 923.5L1014.2 924L1010.5 924.7L1006.8 924.5L1003.1 923.7L999.4 923.4L995.7 923.7L992 923.5L988.3 925.1L984.6 924.4L980.9 925L977.2 924.9L973.5 925L969.8 925.2L966.1 924.5L962.4 924.6L958.7 924.8L955 924.2L951.2 924.6L947.5 924.2L943.8 923.9L940.1 925.6L936.4 924.6L932.7 924.6L929 925.4L925.3 925.7L921.6 926.7L917.9 926.4L914.2 926.6L910.5 926.2L906.8 925.2L903.1 925.3L899.4 926.7L895.7 926.5L892 925.7L888.3 927.5L884.6 926.7L880.9 928L877.2 928.3L873.5 928.2L869.8 926.9L866.1 926.6L862.4 927.9L858.7 926.3L855 926.9L851.3 927.3L847.6 926.6L843.9 928.3L840.2 927.9L836.5 928.6L832.7 928.5L829 928L825.3 928.2L821.6 929L817.9 928.1L814.2 928.9L810.5 929L806.8 928.1L803.1 928.9L799.4 930.3L795.7 930.6L792 929.9L788.3 930.2L784.6 931.4L780.9 930.3L777.2 929.9L773.5 929.9L769.8 930.8L766.1 929.6L762.4 930.7L758.7 931.4L755 931.6L751.3 932L747.6 931.6L743.9 931.7L740.2 931.8L736.5 931.9L732.8 933.4L729.1 932.5L725.4 933.3L721.7 933L718 933.9L714.2 933.1L710.5 933.3L706.8 934.1L703.1 933.5L699.4 933.2L695.7 933.3L692 933.8L688.3 935.5L684.6 934.8L680.9 935.5L677.2 936.3L673.5 936L669.8 936.5L666.1 936.7L662.4 936.3L658.7 937.4L655 936.3Z" fill="#007d00" stroke="#007d00" stroke-width="3" stroke-opacity="0.38" stroke-linejoin="round"/>
<path d="M221.4 121.9H231V1174.5H221.4Z" fill="#e85e26" stroke="#e85e26" stroke-width="2.4" stroke-opacity=".45"/>
<path d="M229 822H232Q239 846 241 880Q242.6 900 247.6 911V943H238L232 960H229Z" fill="#ff560c" stroke="#ff560c" stroke-width="2.6" stroke-opacity="0.4" stroke-linejoin="round"/>
<path d="M246 911.4L249.7 911.8L253.4 911.8L257.1 913.4L260.8 912.8L264.5 913.9L268.1 914.3L271.8 915.3L275.5 916.8L279.2 917.2L282.9 918.1L286.6 919.5L290.3 918.9L294 919.7L297.7 921.2L301.4 921.2L305.1 923.4L308.8 923.1L312.4 924L316.1 924.7L319.8 926.1L323.5 926.9L327.2 927.1L330.9 926.8L334.6 927.8L338.3 929.2L342 929.1L345.7 931.1L349.4 931.8L353.1 931.3L356.7 932L360.4 932.3L364.1 933.8L367.8 933.2L371.5 934.9L375.2 934.4L378.9 936.3L382.6 936.2L386.3 936.8L390 936.4L393.7 936.8L397.4 937.8L401 939.5L404.7 939.2L408.4 940L412.1 938.9L415.8 939.3L419.5 939.5L423.2 941.1L426.9 940.6L430.6 941.3L434.3 942.4L438 943L441.7 942.7L445.3 943.5L449 943.6L452.7 944.6L456.4 944.7L460.1 945.1L463.8 945.4L467.5 945.9L471.2 946.4L474.9 946.4L478.6 947.4L482.3 948.3L486 948.2L489.6 948.4L493.3 950.3L497 950.2L500.7 950.9L504.4 951.2L508.1 952.8L511.8 953.1L515.5 953.4L519.2 953.9L522.9 954.4L526.6 954.5L530.3 954.8L533.9 955.2L537.6 955.9L541.3 956.2L545 956.7L548.7 957L552.4 957.8L556.1 958.3L559.8 957.5L563.5 957.5L567.2 958.5L570.9 958.4L574.6 960.2L578.2 960.3L581.9 960L585.6 960.3L589.3 961.9L593 962.3L596.7 962.4L600.4 962.8L604.1 963.3L607.8 963L611.5 963.1L615.2 963.6L618.9 964.4L622.5 964.9L626.2 965.2L629.9 965.6L633.6 964.8L637.3 965.7L641 967.5L641 990.1L637.3 991.3L633.6 990.4L629.9 990.5L626.2 988.7L622.5 988.5L618.9 988.7L615.2 989.3L611.5 987.5L607.8 987.2L604.1 987.1L600.4 986.8L596.7 987.6L593 985.8L589.3 986.6L585.6 986.3L581.9 985.9L578.2 985.3L574.6 985.4L570.9 984.5L567.2 983.8L563.5 983.3L559.8 984.5L556.1 982.8L552.4 983.6L548.7 982.2L545 981.9L541.3 982.1L537.6 982.1L533.9 981.3L530.3 981L526.6 980.1L522.9 981L519.2 980L515.5 978.8L511.8 978.8L508.1 978.6L504.4 979.5L500.7 977.6L497 977.5L493.3 978.2L489.6 977.7L486 977.5L482.3 976.4L478.6 976.9L474.9 976.9L471.2 976L467.5 976.1L463.8 975.8L460.1 976.1L456.4 975.2L452.7 975L449 973.5L445.3 972.9L441.7 972.3L438 971.5L434.3 972.1L430.6 972L426.9 970.3L423.2 969.7L419.5 970.6L415.8 969.4L412.1 968.6L408.4 969.3L404.7 968.1L401 968.7L397.4 967.4L393.7 967L390 965.3L386.3 966.2L382.6 965L378.9 964.4L375.2 963.2L371.5 964L367.8 962.7L364.1 962.5L360.4 963.3L356.7 962L353.1 960.9L349.4 960L345.7 959.6L342 958.7L338.3 959.2L334.6 957.1L330.9 956.5L327.2 957.2L323.5 956.5L319.8 956.1L316.1 954.6L312.4 954.6L308.8 952.9L305.1 953L301.4 952.9L297.7 951L294 951L290.3 949.1L286.6 948.7L282.9 948.9L279.2 947.5L275.5 946.5L271.8 947L268.1 946.3L264.5 945.2L260.8 944.9L257.1 944.1L253.4 943.1L249.7 943.2L246 943.3Z" fill="#ff560c" stroke="#ff560c" stroke-width="3" stroke-opacity="0.38" stroke-linejoin="round"/>
<path d="M640 991V786Q640.2 777.5 645.8 777.5Q651.4 777.5 651.6 786V820Q654 838 666 854.5V902L652 906L649.5 991Z" fill="#ff560c" stroke="#ff560c" stroke-width="2.6" stroke-opacity="0.4" stroke-linejoin="round"/>
<path d="M664 854.2L667.7 853.9L671.4 854.9L675.1 855.5L678.8 855L682.5 854.7L686.2 855.4L689.9 855.5L693.6 855.7L697.3 855.3L701 855.3L704.7 855.8L708.4 855.7L712.1 856.3L715.8 855.6L719.5 856.5L723.2 856.9L726.9 857.4L730.6 857.2L734.3 857.6L738 856.8L741.7 856.8L745.4 856.6L749.1 856.7L752.8 856.2L756.5 856.4L760.2 857.3L763.9 858L767.6 859L771.3 859L775 858.3L778.7 858.4L782.4 858.4L786.1 858.8L789.8 858.1L793.5 858.6L797.2 857.9L800.9 858.2L804.6 859L808.3 859.5L812 860.5L815.7 859.2L819.4 859.6L823.1 859.2L826.8 860L830.5 859.2L834.2 859.1L837.9 859.4L841.6 859.8L845.3 860.2L849 859.9L852.7 859.7L856.4 859.3L860.1 859.4L863.8 858.2L867.5 858.4L871.2 860.5L874.9 860.7L878.6 860.4L882.3 860L886 860.5L889.7 859.9L893.4 859.1L897.1 860.2L900.8 859.8L904.5 860.2L908.2 860.2L911.9 859L915.6 859.9L919.3 859.3L923 860.2L926.7 862.5L930.4 862.2L934.1 861.9L937.8 862.4L941.5 861.8L945.2 862.4L948.9 862.1L952.6 861L956.3 860.6L960 861.6L963.7 861.6L967.4 861.6L971.1 862.7L974.8 862.1L978.5 863.4L982.2 863.1L985.9 864.2L989.6 863.2L993.3 861.6L997 860.6L1000.7 861.4L1004.4 862.1L1008.1 862.4L1011.8 861.4L1015.5 862.5L1019.2 862.6L1022.9 863.5L1026.6 864.1L1030.3 863.5L1034 862.1L1037.7 862.5L1041.4 862.5L1045.1 862.9L1048.8 864.2L1052.5 864.4L1056.2 864.1L1059.9 864.6L1063.6 865.2L1067.3 864.6L1071 862.9L1074.7 861.2L1078.4 861L1082 861.5L1085.7 863L1089.4 862.8L1093.1 863.1L1096.8 862.8L1100.5 862.9L1104.2 862.7L1107.9 864.5L1111.6 864.7L1115.3 864.6L1119 865.7L1122.7 865.6L1126.4 865.8L1130.1 866.1L1133.8 865.9L1137.5 866.2L1141.2 866.3L1144.9 865.5L1148.6 866.3L1152.3 866.3L1156 866.7L1159.7 866.3L1163.4 865.7L1167.1 864.1L1170.8 863.8L1174.5 864.9L1178.2 865.3L1181.9 865.4L1185.6 865.9L1189.3 865.9L1193 867.2L1196.7 867L1200.4 867.1L1204.1 866.7L1207.8 867.8L1211.5 867.9L1215.2 866.1L1218.9 865.2L1222.6 864.2L1226.3 864.7L1230 867L1233.7 868.9L1237.4 868.1L1241.1 868.2L1244.8 868.7L1248.5 867.6L1252.2 868.7L1255.9 868.1L1259.6 868.6L1263.3 868.3L1267 868.1L1270.7 867.6L1274.4 866.7L1278.1 867.4L1281.8 866.6L1285.5 868.1L1289.2 868.7L1292.9 868.2L1296.6 868.6L1300.3 869.2L1304 869.3L1307.7 870.5L1311.4 870L1315.1 869L1318.8 869.6L1322.5 869.4L1326.2 868.4L1329.9 867.6L1333.6 868.6L1337.3 869L1341 870.5L1344.7 869.6L1348.4 870.7L1352.1 870.9L1355.8 870.5L1359.5 869.6L1363.2 870.6L1366.9 869.1L1370.6 869.8L1374.3 868.8L1378 868.5L1381.7 868.8L1385.4 868.4L1389.1 870.4L1392.8 870.2L1396.5 871L1400.2 870.4L1403.9 868.6L1407.6 867.2L1411.3 866.7L1415 867.5L1418.7 867.8L1422.4 867.3L1426.1 868L1429.8 868.1L1433.5 868.6L1437.2 869L1440.9 868.5L1444.6 867.5L1448.3 867.3L1452 867.5L1455.7 867.2L1459.4 868.5L1463.1 868.9L1466.8 868.5L1470.5 868.6L1474.2 866.3L1477.9 866.4L1481.6 867.2L1485.3 868.5L1489 868.7L1492.7 869.4L1496.4 868L1500.1 868.3L1503.8 868L1507.5 866.6L1511.2 867.7L1514.9 867L1518.6 868.5L1522.3 867.5L1526 868.4L1529.7 869.6L1533.4 868.9L1537.1 868.3L1540.8 867.1L1544.5 867.2L1548.2 867L1551.9 868L1555.6 867.9L1559.3 869L1563 868.7L1566.7 869.5L1570.4 869.8L1574.1 870.6L1577.8 871L1581.5 870.1L1585.2 871.7L1588.9 870.2L1592.6 868L1596.3 867L1600 868.3L1603.7 868.8L1607.4 867.5L1611.1 868.7L1614.8 869.3L1618.5 870.1L1622.2 869.2L1625.9 868.7L1629.6 867.9L1633.3 867.1L1637 868.1L1640.7 868.9L1644.4 869.4L1648.1 869.8L1651.8 870.1L1655.5 868.8L1659.2 868.3L1662.9 867.8L1666.6 868.3L1670.3 868.3L1674 869L1677.7 869.1L1681.4 868.6L1685.1 868.4L1688.8 868.5L1692.5 868.4L1696.2 867L1699.9 866.8L1703.6 865.8L1707.3 865.6L1711 866.3L1714.7 866.2L1718.4 865.6L1722.1 865.7L1725.8 866.4L1729.5 867.4L1733.2 867.5L1736.9 866.6L1740.6 867.7L1744.3 867.9L1748 867.7L1751.7 867.3L1755.4 868.1L1759.1 869.1L1762.8 869.5L1766.5 870.5L1770.2 870.8L1773.9 870.2L1777.6 871L1781.3 869.4L1785 870.1L1788.7 869.2L1792.4 866.6L1796.1 866.3L1799.8 867.2L1803.5 869.4L1807.2 870.5L1810.9 869.8L1814.6 869.4L1818.3 868.2L1822 867.8L1825.7 868.6L1829.4 868L1833.1 869.6L1836.8 870L1840.5 869.7L1844.2 870.9L1847.9 871.2L1851.6 869.8L1855.3 871.7L1859 870.4L1862.7 871.8L1866.4 870.5L1870.1 871L1873.8 871.4L1877.5 872.2L1881.2 871L1884.9 869L1888.6 869.7L1892.3 869.6L1896 868.6L1899.7 867.5L1903.4 867.9L1907.1 868L1910.7 868.5L1914.4 869.7L1918.1 869L1921.8 869.3L1925.5 867.6L1929.2 867.8L1932.9 869.3L1936.6 869.4L1940.3 869.9L1944 869.7L1947.7 869.3L1951.4 869.4L1955.1 869.3L1958.8 869.2L1962.5 870L1966.2 869.8L1969.9 869.4L1973.6 870.1L1977.3 868.2L1981 867.6L1984.7 867.6L1988.4 868.5L1992.1 869.4L1995.8 870.6L1999.5 870.8L2003.2 870.8L2006.9 871L2010.6 871.9L2014.3 869.6L2018 869.8L2021.7 867.6L2025.4 868.1L2029.1 869.1L2032.8 868.9L2036.5 869.3L2040.2 870.1L2043.9 868.6L2047.6 867.8L2051.3 867.3L2055 867.9L2058.7 867.1L2062.4 867.6L2066.1 868.1L2069.8 869.1L2073.5 869.4L2077.2 869.5L2080.9 868.6L2084.6 868.2L2088.3 868L2092 868.3L2095.7 870.1L2099.4 871.3L2103.1 870L2106.8 871.3L2110.5 870.6L2114.2 870.3L2117.9 871L2121.6 869.3L2125.3 870.5L2129 870.4L2132.7 872L2136.4 870.9L2140.1 872.4L2143.8 871.4L2147.5 871.2L2151.2 868.5L2154.9 867.8L2158.6 866.8L2162.3 868.2L2166 866.3L2169.7 866.8L2173.4 867.9L2177.1 868.1L2180.8 867.7L2184.5 866.8L2188.2 867.2L2191.9 869.6L2195.6 870.1L2199.3 869L2203 871.8L2206.7 871.6L2210.4 870.6L2214.1 871.4L2217.8 870.7L2221.5 870L2225.2 871.7L2228.9 871.5L2232.6 869.4L2236.3 870L2240 870.1L2243.7 871.7L2247.4 871L2251.1 871.4L2254.8 870.6L2258.5 869.6L2262.2 869L2265.9 869.1L2269.6 869.3L2273.3 868.7L2277 868.7L2280.7 869.4L2284.4 869.3L2288.1 870.2L2291.8 870.2L2295.5 869.3L2299.2 867.8L2302.9 866.8L2306.6 868.6L2310.3 867.5L2314 867.2L2317.7 867.3L2321.4 867.2L2325.1 867.9L2325.1 917.7L2321.4 917.9L2317.7 917.1L2314 917.1L2310.3 917.3L2306.6 917.8L2302.9 917.7L2299.2 917.6L2295.5 918.1L2291.8 916.6L2288.1 917.5L2284.4 916.3L2280.7 916.9L2277 916.3L2273.3 916.8L2269.6 916.1L2265.9 916.4L2262.2 916.8L2258.5 917.7L2254.8 916.5L2251.1 917.7L2247.4 917.7L2243.7 917L2240 917L2236.3 916.2L2232.6 917L2228.9 917.1L2225.2 917.6L2221.5 917.4L2217.8 917L2214.1 916.8L2210.4 916.8L2206.7 917.1L2203 916.3L2199.3 918L2195.6 917.6L2191.9 917L2188.2 917.3L2184.5 917.7L2180.8 916.6L2177.1 917.1L2173.4 917.6L2169.7 917.2L2166 917L2162.3 916.8L2158.6 915.8L2154.9 917L2151.2 916.3L2147.5 916.4L2143.8 916.1L2140.1 916.7L2136.4 916.9L2132.7 916.5L2129 917.3L2125.3 917.4L2121.6 915.5L2117.9 916.9L2114.2 915.5L2110.5 917.4L2106.8 916.9L2103.1 916.5L2099.4 917.4L2095.7 916.2L2092 917.2L2088.3 915.8L2084.6 916.2L2080.9 916.6L2077.2 916L2073.5 916.6L2069.8 917.8L2066.1 917.2L2062.4 917.9L2058.7 917.7L2055 916.2L2051.3 916.7L2047.6 916.8L2043.9 916.5L2040.2 916.7L2036.5 916.6L2032.8 916.8L2029.1 916L2025.4 916.5L2021.7 916.1L2018 916.4L2014.3 916.4L2010.6 915.6L2006.9 915.8L2003.2 916.6L1999.5 917.3L1995.8 918.1L1992.1 917.1L1988.4 917.7L1984.7 917.4L1981 916L1977.3 917.2L1973.6 917.6L1969.9 917.2L1966.2 917.1L1962.5 916.8L1958.8 917.5L1955.1 917.1L1951.4 917.2L1947.7 917.9L1944 917.2L1940.3 917.5L1936.6 916.4L1932.9 917.1L1929.2 916.6L1925.5 916.4L1921.8 917.2L1918.1 917.1L1914.4 917.4L1910.7 917.2L1907.1 917L1903.4 916L1899.7 916.7L1896 916L1892.3 916.3L1888.6 916.4L1884.9 916.2L1881.2 915.5L1877.5 914.9L1873.8 916.1L1870.1 915.2L1866.4 915.9L1862.7 916.2L1859 916.3L1855.3 916L1851.6 917.3L1847.9 917.2L1844.2 916.5L1840.5 916.1L1836.8 916.4L1833.1 916.9L1829.4 916.8L1825.7 916.8L1822 916.6L1818.3 916.6L1814.6 916.5L1810.9 916.5L1807.2 917L1803.5 915.9L1799.8 915.4L1796.1 914.6L1792.4 915.1L1788.7 916.2L1785 916.7L1781.3 916.4L1777.6 915.9L1773.9 916.8L1770.2 916.7L1766.5 916.6L1762.8 916.9L1759.1 916.9L1755.4 917.4L1751.7 916.9L1748 917.6L1744.3 917.4L1740.6 917.4L1736.9 917.5L1733.2 916.4L1729.5 916.1L1725.8 916.9L1722.1 915.7L1718.4 916.7L1714.7 915.5L1711 915.8L1707.3 916.5L1703.6 915.4L1699.9 915.6L1696.2 916.1L1692.5 916.9L1688.8 916.2L1685.1 916.7L1681.4 917.2L1677.7 916L1674 916.9L1670.3 916.1L1666.6 916.1L1662.9 914.8L1659.2 915.9L1655.5 915.4L1651.8 916.3L1648.1 915.7L1644.4 916.3L1640.7 916.2L1637 915.4L1633.3 914.8L1629.6 915.5L1625.9 914.7L1622.2 915L1618.5 916.3L1614.8 916.2L1611.1 914.8L1607.4 914.8L1603.7 915.2L1600 915.4L1596.3 916.8L1592.6 915.9L1588.9 916.2L1585.2 915.3L1581.5 915.7L1577.8 916.3L1574.1 916.8L1570.4 916.6L1566.7 915.9L1563 915.6L1559.3 915.5L1555.6 916.6L1551.9 916.2L1548.2 915.6L1544.5 915.6L1540.8 914.6L1537.1 914.8L1533.4 915.9L1529.7 916.6L1526 916.2L1522.3 916.8L1518.6 915.7L1514.9 916.2L1511.2 915.5L1507.5 915.4L1503.8 915.2L1500.1 915.8L1496.4 915.1L1492.7 915.4L1489 915.6L1485.3 915.9L1481.6 914.5L1477.9 915.1L1474.2 915.1L1470.5 915.8L1466.8 915.6L1463.1 915.7L1459.4 915L1455.7 914.4L1452 915.1L1448.3 914.4L1444.6 915.4L1440.9 914.7L1437.2 915.4L1433.5 916.1L1429.8 915.4L1426.1 914L1422.4 914.9L1418.7 914.3L1415 915.6L1411.3 915.6L1407.6 915.4L1403.9 916L1400.2 916.1L1396.5 915.4L1392.8 915.2L1389.1 916.5L1385.4 915.7L1381.7 916.2L1378 914.8L1374.3 915.2L1370.6 914.8L1366.9 915.8L1363.2 915.7L1359.5 915.6L1355.8 915.7L1352.1 915L1348.4 915.7L1344.7 915.6L1341 916L1337.3 914.7L1333.6 915.7L1329.9 915.2L1326.2 915.5L1322.5 915.1L1318.8 916.3L1315.1 916.2L1311.4 916L1307.7 916L1304 915.3L1300.3 915.1L1296.6 915.5L1292.9 913.9L1289.2 914.4L1285.5 914.8L1281.8 915.4L1278.1 914.3L1274.4 914.3L1270.7 913.9L1267 914L1263.3 915.2L1259.6 914.8L1255.9 913.9L1252.2 915.5L1248.5 914.4L1244.8 915.2L1241.1 915.1L1237.4 915.1L1233.7 913.6L1230 913.4L1226.3 914L1222.6 914.4L1218.9 913.2L1215.2 913.8L1211.5 913.1L1207.8 913.4L1204.1 913.2L1200.4 913.5L1196.7 914.4L1193 914.8L1189.3 914.2L1185.6 913.8L1181.9 913.7L1178.2 912.4L1174.5 913.5L1170.8 912.6L1167.1 912.3L1163.4 913.4L1159.7 912.5L1156 913.4L1152.3 912.4L1148.6 911.2L1144.9 911.7L1141.2 910.8L1137.5 911.7L1133.8 911.5L1130.1 911.1L1126.4 910.9L1122.7 911.6L1119 911.5L1115.3 912L1111.6 912.8L1107.9 911.3L1104.2 911.6L1100.5 911.1L1096.8 912.5L1093.1 911.4L1089.4 910.7L1085.7 911.3L1082 911.5L1078.4 911.1L1074.7 911.1L1071 909.9L1067.3 910.3L1063.6 911.3L1059.9 911.5L1056.2 911.3L1052.5 910.6L1048.8 911.4L1045.1 910.2L1041.4 911.7L1037.7 911.1L1034 910L1030.3 910.1L1026.6 910.8L1022.9 911.3L1019.2 910.4L1015.5 911.5L1011.8 910.4L1008.1 910.5L1004.4 910.6L1000.7 909.7L997 909.9L993.3 910L989.6 909.9L985.9 910L982.2 911.1L978.5 910.1L974.8 909.5L971.1 908.2L967.4 908.3L963.7 908.1L960 908.9L956.3 909.6L952.6 909.4L948.9 910.3L945.2 908.8L941.5 909.1L937.8 908.9L934.1 909L930.4 908L926.7 909L923 908.2L919.3 908.4L915.6 908.8L911.9 908.4L908.2 908.5L904.5 908.6L900.8 907.9L897.1 908.7L893.4 908.9L889.7 907.8L886 908.7L882.3 909L878.6 908.1L874.9 907.2L871.2 908.2L867.5 906.7L863.8 907.4L860.1 907.5L856.4 908.2L852.7 908.4L849 906.9L845.3 908.2L841.6 906.9L837.9 907.9L834.2 908.2L830.5 907.1L826.8 908.5L823.1 906.9L819.4 906.7L815.7 907.4L812 906.3L808.3 907.6L804.6 906.6L800.9 907.9L797.2 907.8L793.5 908L789.8 907.9L786.1 907.5L782.4 906.8L778.7 907.3L775 906.6L771.3 906.4L767.6 906.2L763.9 906.3L760.2 904.6L756.5 904.9L752.8 906L749.1 904.7L745.4 905.1L741.7 905.9L738 904.7L734.3 905.9L730.6 906L726.9 905.8L723.2 904.9L719.5 905.8L715.8 906.1L712.1 905.5L708.4 904.8L704.7 903.4L701 903.2L697.3 904.3L693.6 904.5L689.9 903.9L686.2 903.9L682.5 903.8L678.8 903.7L675.1 902.7L671.4 903.2L667.7 903.1L664 904.1Z" fill="#ff560c" stroke="#ff560c" stroke-width="3" stroke-opacity="0.4" stroke-linejoin="round"/>
<path d="M225.6 121.6H232.2V345H229.4L227.6 182H225.6Z" fill="url(#spk)"/>
</g>
<path d="M2325.7 123.4V1173" stroke="#1a1a1a" stroke-width="3.7" fill="none"/>
<path d="M867.6 261.4L708 329.8" fill="none" stroke="#111" stroke-width="2.4"/>
<path d="M676 346.6L712.6 307.5L710.4 328.6L729 342.6Z" fill="#000"/>
<rect x="1927.3" y="48.4" width="349.4" height="338.2" fill="#fff" stroke="#000" stroke-width="4"/>
<path d="M1940 80.2H2090.5" stroke="#0c00c2" stroke-width="14.6" stroke-opacity="0.36" fill="none"/><path d="M1940 80.2H2090.5" stroke="#0c00c2" stroke-width="7.6" fill="none"/>
<text class="lg" transform="translate(2102 93.8) scale(1 1.04)">P_PV</text>
<path d="M1940 135.1H2090.5" stroke="#00e400" stroke-width="14.6" stroke-opacity="0.36" fill="none"/><path d="M1940 135.1H2090.5" stroke="#00e400" stroke-width="7.6" fill="none"/>
<text class="lg" transform="translate(2102 150.5) scale(1 1.04)">P_WT</text>
<path d="M1940 190H2090.5" stroke="#ff00e0" stroke-width="14.6" stroke-opacity="0.36" fill="none"/><path d="M1940 190H2090.5" stroke="#ff00e0" stroke-width="7.6" fill="none"/>
<text class="lg" transform="translate(2102 203.5) scale(1 1.04)">P_DOG</text>
<path d="M1940 244.9H2090.5" stroke="#000000" stroke-width="14.6" stroke-opacity="0.36" fill="none"/><path d="M1940 244.9H2090.5" stroke="#000000" stroke-width="7.6" fill="none"/>
<text class="lg" transform="translate(2102 259.5) scale(1 1.04)">P_LOAD</text>
<path d="M1940 299.8H2090.5" stroke="#007218" stroke-width="14.6" stroke-opacity="0.36" fill="none"/><path d="M1940 299.8H2090.5" stroke="#007218" stroke-width="7.6" fill="none"/>
<text class="lg" transform="translate(2102 313) scale(1 1.04)">BESU1</text>
<path d="M1940 354.7H2090.5" stroke="#e8561f" stroke-width="14.6" stroke-opacity="0.36" fill="none"/><path d="M1940 354.7H2090.5" stroke="#e8561f" stroke-width="7.6" fill="none"/>
<text class="lg" transform="translate(2102 368.5) scale(1 1.04)">BESU2</text>
<text class="tk" text-anchor="middle" x="219.2" y="1246.4">0</text>
<text class="tk" text-anchor="middle" x="429.9" y="1246.4">1</text>
<text class="tk" text-anchor="middle" x="640.6" y="1246.4">2</text>
<text class="tk" text-anchor="middle" x="851.4" y="1246.4">3</text>
<text class="tk" text-anchor="middle" x="1062.2" y="1246.4">4</text>
<text class="tk" text-anchor="middle" x="1272.9" y="1246.4">5</text>
<text class="tk" text-anchor="middle" x="1483.7" y="1246.4">6</text>
<text class="tk" text-anchor="middle" x="1694.4" y="1246.4">7</text>
<text class="tk" text-anchor="middle" x="1905.2" y="1246.4">8</text>
<text class="tk" text-anchor="middle" x="2115.9" y="1246.4">9</text>
<text class="tk" text-anchor="middle" x="2326.7" y="1246.4">10</text>
<text class="tk" text-anchor="end" x="199.5" y="159">3</text>
<text class="tk" text-anchor="end" x="199.5" y="294.7">2.5</text>
<text class="tk" text-anchor="end" x="199.5" y="430.2">2</text>
<text class="tk" text-anchor="end" x="199.5" y="569.2">1.5</text>
<text class="tk" text-anchor="end" x="199.5" y="704.5">1</text>
<text class="tk" text-anchor="end" x="199.5" y="840.2">0.5</text>
<text class="tk" text-anchor="end" x="199.5" y="979.6">0</text>
<text class="tk" text-anchor="end" x="202.5" y="1114.8">-0.5</text>
<text class="tk" y="110.4"><tspan class="mul" x="224" dy="5.5">×</tspan><tspan x="262.5" dy="-5.5" letter-spacing="-0.6">10</tspan><tspan class="sup" x="317.6" dy="-22.6">4</tspan></text>
<text class="lb" text-anchor="middle" transform="translate(1275 1321.3)">Time(s)</text>
<text class="lb" text-anchor="middle" transform="translate(84.8 649) rotate(-90)">P(W)</text>
<text class="an" transform="translate(886.5 283.3) scale(1 1.035)" letter-spacing="-0.3">Mode4 to Mode3</text>
<text class="cap" y="1484.2"><tspan class="par" x="1272.4">(</tspan><tspan x="1297.8">a</tspan><tspan class="par" x="1335.2">)</tspan></text>
</svg>
</body>
</html>
